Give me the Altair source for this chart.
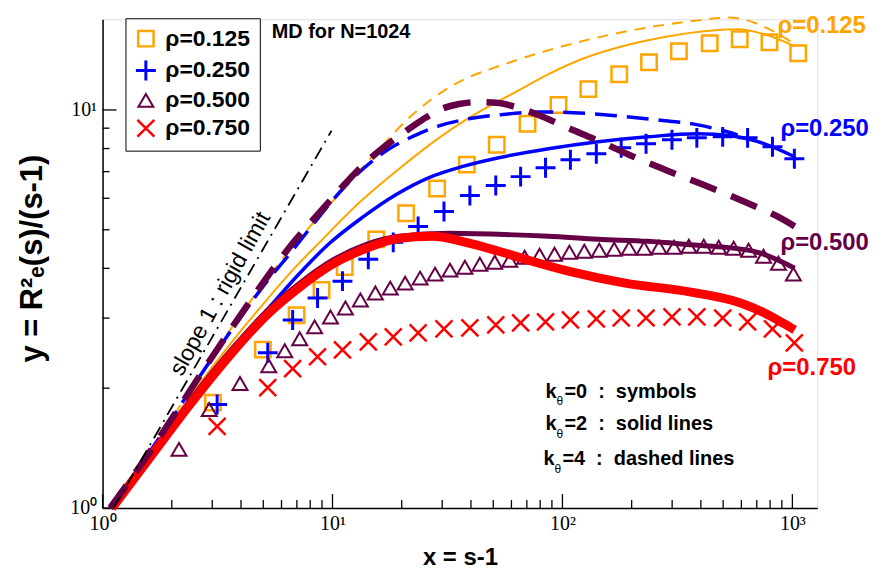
import altair as alt
import pandas as pd

# ---------------- data ----------------
RHO = ["ρ=0.125", "ρ=0.250", "ρ=0.500", "ρ=0.750"]
COLORS = ["#FFA500", "#0000FF", "#650046", "#FF0000"]

# k_theta = 0 : symbols
sq_x = [3.02, 4.98, 6.98, 8.96, 11.3, 15.5, 20.9, 28.5, 38.4, 51.8, 70.5, 96.1,
        129.6, 176.6, 238, 321, 437, 590, 795, 1060]
sq_y = [1.84, 2.50, 3.05, 3.53, 4.03, 4.73, 5.50, 6.35, 7.29, 8.18, 9.23, 10.29,
        11.28, 12.30, 13.18, 14.05, 14.71, 15.05, 14.79, 13.88]

pl_x = [3.15, 5.23, 6.71, 8.61, 11.05, 14.31, 18.37, 23.57, 30.53, 39.58, 51.29, 65.79,
        84.41, 108.3, 140.4, 180.1, 231.0, 299.4, 384.1, 497.7, 638.5, 819.2, 1020]
pl_y = [1.82, 2.455, 2.968, 3.370, 3.715, 4.217, 4.650, 5.099, 5.559, 6.095, 6.457, 6.800,
        7.161, 7.499, 7.762, 8.035, 8.222, 8.414, 8.511, 8.560, 8.511, 8.082, 7.542]

tr_x = [2.15, 2.91, 3.96, 5.28, 6.20, 7.20, 8.36, 9.80, 11.38, 13.22, 15.36, 17.83, 20.70,
        24.04, 27.92, 32.43, 37.65, 43.73, 50.78, 58.97, 68.48, 79.52, 92.35, 107.2,
        124.5, 144.6, 167.9, 195.0, 226.5, 263.0, 305.4, 354.6, 411.8, 478.2, 555.3,
        644.9, 748.9, 869.6, 1010]
tr_y = [1.404, 1.768, 2.054, 2.278, 2.483, 2.661, 2.851, 3.020, 3.180, 3.330, 3.467, 3.568,
        3.673, 3.781, 3.869, 3.959, 4.027, 4.098, 4.145, 4.193, 4.266, 4.315, 4.340, 4.390,
        4.416, 4.441, 4.467, 4.493, 4.493, 4.519, 4.519, 4.545, 4.545, 4.519, 4.493,
        4.441, 4.290, 4.121, 3.869]

cr_x = [3.15, 5.23, 6.71, 8.61, 11.05, 14.31, 18.37, 23.57, 30.53, 39.58, 51.29, 65.79,
        84.41, 108.3, 140.4, 180.1, 231.0, 299.4, 384.1, 497.7, 638.5, 819.2, 1020]
cr_y = [1.603, 2.007, 2.239, 2.399, 2.497, 2.615, 2.692, 2.754, 2.818, 2.834, 2.884, 2.917,
        2.934, 2.968, 2.985, 3.002, 3.002, 3.020, 3.020, 3.002, 2.934, 2.818, 2.600]

# k_theta = 4 : dashed lines
o4_x = [1.08, 1.61, 2.18, 2.94, 3.96, 5.18, 7.2, 10.0, 13.1, 16.0, 21.5, 29.0, 39.2,
        52.8, 87.0, 143, 236, 388, 523, 639, 780, 950, 1023]
o4_y = [1.0, 1.39, 1.81, 2.36, 3.04, 3.76, 4.76, 5.89, 7.04, 7.99, 9.55, 10.96, 12.09,
        12.88, 14.13, 15.22, 16.12, 16.79, 17.08, 16.79, 16.03, 15.05, 14.6]

b4_x = [1.08, 1.61, 2.18, 2.94, 3.96, 5.08, 6.71, 8.36, 10.72, 13.76, 17.65, 22.65, 29.05,
        39.18, 52.84, 78.71, 117.3, 174.8, 260.4, 387.9, 578.1]
b4_y = [1.0, 1.388, 1.809, 2.344, 3.003, 3.652, 4.441, 5.218, 6.202, 7.161, 7.989, 8.61,
        9.12, 9.50, 9.72, 9.886, 9.83, 9.66, 9.44, 9.173, 8.66]

p4_x = [1.08, 1.61, 2.18, 2.94, 3.96, 5.08, 6.71, 8.785, 11.05, 13.09, 15.98, 19.5, 24.53,
        29.05, 35.46, 43.29, 52.84, 62.58, 78.71, 103.0, 143.2, 199.0, 279.2, 387.9,
        523.2, 705.6, 861, 1023]
p4_y = [1.0, 1.388, 1.809, 2.358, 3.038, 3.737, 4.624, 5.527, 6.420, 7.12, 7.898, 8.61,
        9.441, 10.0, 10.35, 10.47, 10.41, 10.17, 9.716, 9.068, 8.366, 7.674, 7.079,
        6.569, 6.13, 5.69, 5.40, 5.10]

# k_theta = 2 : solid lines
o2_x = [1.08, 1.61, 2.18, 2.94, 3.96, 5.08, 6.71, 8.785, 13.09, 19.5, 29.05, 39.18, 52.84,
        62.58, 86.98, 120.9, 169.6, 235.7, 327.5, 459.6, 578.1, 756.5, 1023]
o2_y = [1.0, 1.380, 1.758, 2.226, 2.770, 3.292, 3.959, 4.65, 5.854, 7.12, 8.511, 9.55,
        10.53, 11.09, 12.30, 13.41, 14.29, 14.96, 15.49, 15.85, 15.94, 15.49, 14.45]

b2_x = [1.08, 1.61, 2.18, 2.94, 3.69, 5.18, 7.2, 9.71, 13.49, 18.93, 26.29, 36.54, 52.84,
        86.98, 143.2, 235.7, 387.9, 539.1, 756.5, 1023]
b2_y = [1.0, 1.365, 1.718, 2.138, 2.512, 3.144, 3.890, 4.624, 5.37, 6.13, 6.761, 7.203,
        7.586, 7.989, 8.318, 8.56, 8.71, 8.61, 8.222, 7.63]

p2_x = [1.09, 1.61, 2.40, 3.69, 5.18, 7.2, 10.0, 14.04, 19.5, 32.1, 52.84, 86.98, 143.2,
        235.7, 387.9, 507.8, 705.6, 887.4, 1023]
p2_y = [1.0, 1.357, 1.862, 2.527, 3.126, 3.673, 4.193, 4.597, 4.815, 4.898, 4.87, 4.815,
        4.732, 4.677, 4.571, 4.519, 4.39, 4.169, 4.005]

r2_x = [1.10, 1.61, 2.40, 3.69, 5.18, 7.2, 10.0, 14.04, 19.5, 27.09, 38.03, 52.84, 71.25,
        106.2, 187.4, 361.7, 595.6, 756.5, 923.5, 1023]
r2_y = [1.0, 1.341, 1.82, 2.469, 3.055, 3.589, 4.098, 4.493, 4.759, 4.815, 4.65, 4.416,
        4.193, 3.936, 3.673, 3.487, 3.273, 3.090, 2.901, 2.802]

# rigid limit (slope 1)
slope_x = [1.116, 9.90]
slope_y = [1.0, 8.87]

# axis ticks
xt_major = [1, 10, 100, 1000]
xt_minor = [2, 3, 4, 5, 6, 7, 8, 9, 20, 30, 40, 50, 60, 70, 80, 90,
            200, 300, 400, 500, 600, 700, 800, 900]
yt_major = [1, 10]
yt_minor = [2, 3, 4, 5, 6, 7, 8, 9]

# annotations
lab_x = [861, 887, 887, 780]
lab_y = [15.6, 8.61, 4.44, 2.163]

NB = "\u00a0"
kt_x = [84.4, 84.4, 82.7]
kt_y = [1.895, 1.567, 1.281]
kt_sub = ["θ", "θ", "θ"]
kt_text = ["=0" + NB * 2 + ":" + NB * 2 + "symbols",
           "=2" + NB * 2 + ":" + NB * 2 + "solid lines",
           "=4" + NB * 2 + ":" + NB * 2 + "dashed lines"]

# ---------------- chart ----------------
W, H = 718, 491
SANS = "Liberation Sans"
SERIF = "Liberation Serif"

xs = alt.Scale(type="log", domain=[1, 1283], nice=False)
ys = alt.Scale(type="log", domain=[1, 16.9], nice=False)

x_axis = alt.Axis(values=xt_major, ticks=False, grid=False, labelFlush=False,
                  labelOverlap=False,
                  labelExpr="datum.value == 1 ? '10\u2070' : datum.value == 10 ? '10\u00b9' : datum.value == 100 ? '10\u00b2' : '10\u00b3'",
                  labelFont=SERIF, labelFontSize=20, labelColor="black", labelPadding=6,
                  domainColor="black", domainWidth=1.5,
                  title="x = s-1", titleFont=SANS, titleFontSize=24, titleFontWeight="bold",
                  titleColor="black", titleY=50, titleBaseline="middle")
y_axis = alt.Axis(values=yt_major, ticks=False, grid=False, labelFlush=False,
                  labelOverlap=False,
                  labelExpr="datum.value == 1 ? '10\u2070' : '10\u00b9'",
                  labelFont=SERIF, labelFontSize=20, labelColor="black", labelPadding=6,
                  domainColor="black", domainWidth=1.5,
                  title="y = R\u00b2\u2091(s)/(s-1)", titleFont=SANS, titleFontSize=31,
                  titleFontWeight="bold", titleColor="black", titleX=-70, titleY=240,
                  titleAngle=270, titleAlign="center", titleBaseline="middle")

X = alt.X("x:Q", scale=xs, axis=x_axis)
Y = alt.Y("y:Q", scale=ys, axis=y_axis)

layers = []

# inward tick marks
layers.append(alt.Chart(pd.DataFrame({"x": xt_major})).mark_rule(color="black", strokeWidth=1.3)
              .encode(x=X, y=alt.value(H), y2=alt.value(H - 14)))
layers.append(alt.Chart(pd.DataFrame({"x": xt_minor})).mark_rule(color="black", strokeWidth=1.3)
              .encode(x=X, y=alt.value(H), y2=alt.value(H - 8)))
layers.append(alt.Chart(pd.DataFrame({"y": yt_major})).mark_rule(color="black", strokeWidth=1.3)
              .encode(y=Y, x=alt.value(0), x2=alt.value(14)))
layers.append(alt.Chart(pd.DataFrame({"y": yt_minor})).mark_rule(color="black", strokeWidth=1.3)
              .encode(y=Y, x=alt.value(0), x2=alt.value(7)))

# symbols
pts = pd.concat([
    pd.DataFrame({"x": sq_x, "y": sq_y, "rho": RHO[0]}),
    pd.DataFrame({"x": pl_x, "y": pl_y, "rho": RHO[1]}),
    pd.DataFrame({"x": tr_x, "y": tr_y, "rho": RHO[2]}),
    pd.DataFrame({"x": cr_x, "y": cr_y, "rho": RHO[3]}),
], ignore_index=True)

SHAPES = ["square", "M-1,0L1,0M0,-1L0,1", "triangle-up", "M-1,-1L1,1M-1,1L1,-1"]
legend = alt.Legend(title=None, orient="none", legendX=23, legendY=-1, padding=9,
                    rowPadding=2, labelOffset=8, labelFontSize=23, labelFont=SANS,
                    labelFontWeight="bold", labelColor="black", strokeColor="black",
                    fillColor="white", symbolOpacity=1)
layers.append(alt.Chart(pts).mark_point(filled=False, opacity=1).encode(
    x=X, y=Y,
    color=alt.Color("rho:N", scale=alt.Scale(domain=RHO, range=COLORS), legend=legend),
    shape=alt.Shape("rho:N", scale=alt.Scale(domain=RHO, range=SHAPES), legend=legend),
    size=alt.Size("rho:N", scale=alt.Scale(type="ordinal", domain=RHO, range=[240, 400, 225, 289]),
                  legend=legend),
    strokeWidth=alt.StrokeWidth("rho:N", scale=alt.Scale(type="ordinal", domain=RHO,
                                                         range=[2.5, 3, 2, 2.5]), legend=legend),
))

# lines
line_specs = [
    (o4_x, o4_y, COLORS[0], 2, [11, 8]),
    (o2_x, o2_y, COLORS[0], 2, None),
    (b2_x, b2_y, COLORS[1], 3.5, None),
    (b4_x, b4_y, COLORS[1], 3.5, [22, 10]),
    (p2_x, p2_y, COLORS[2], 5, None),
    (r2_x, r2_y, COLORS[3], 9, None),
    (p4_x, p4_y, COLORS[2], 6.5, [28, 16]),
]
for lx, ly, c, w, dash in line_specs:
    kw = dict(color=c, strokeWidth=w, interpolate="monotone")
    if dash:
        kw["strokeDash"] = dash
    layers.append(alt.Chart(pd.DataFrame({"x": lx, "y": ly})).mark_line(**kw).encode(x=X, y=Y))

layers.append(alt.Chart(pd.DataFrame({"x": slope_x, "y": slope_y})).mark_line(
    color="black", strokeWidth=1.8, strokeDash=[13, 6, 2, 6]).encode(x=X, y=Y))

# text annotations
layers.append(alt.Chart(pd.DataFrame({"x": lab_x, "y": lab_y, "t": RHO, "c": COLORS}))
              .mark_text(align="left", baseline="alphabetic", font=SANS, fontSize=24,
                         fontWeight="bold")
              .encode(x=X, y=Y, text="t:N", color=alt.Color("c:N", scale=None)))

layers.append(alt.Chart(pd.DataFrame({"x": [5.44], "y": [15.14], "t": ["MD for N=1024"]}))
              .mark_text(align="left", baseline="alphabetic", font=SANS, fontSize=20,
                         fontWeight="bold", color="black")
              .encode(x=X, y=Y, text="t:N"))

layers.append(alt.Chart(pd.DataFrame({"x": [3.25], "y": [3.45], "t": ["slope 1 : rigid limit"]}))
              .mark_text(align="center", baseline="middle", font=SANS, fontSize=23,
                         angle=299, color="black")
              .encode(x=X, y=Y, text="t:N"))

kt = pd.DataFrame({"x": kt_x, "y": kt_y, "k": ["k"] * 3, "s": kt_sub, "t": kt_text})
layers.append(alt.Chart(kt).mark_text(align="left", baseline="alphabetic", font=SANS,
                                      fontSize=20, fontWeight="bold", color="black")
              .encode(x=X, y=Y, text="k:N"))
layers.append(alt.Chart(kt).mark_text(align="left", baseline="alphabetic", font=SANS,
                                      fontSize=12, color="black", dx=11, dy=8)
              .encode(x=X, y=Y, text="s:N"))
layers.append(alt.Chart(kt).mark_text(align="left", baseline="alphabetic", font=SANS,
                                      fontSize=20, fontWeight="bold", color="black", dx=19)
              .encode(x=X, y=Y, text="t:N"))

chart = alt.layer(*layers).properties(
    width=W, height=H,
    autosize=alt.AutoSizeParams(type="none"),
    padding={"left": 95, "top": 10, "right": 58, "bottom": 66},
).configure_view(stroke=None).configure(background="white")

chart.save("out.html", embed_options={"renderer": "svg", "actions": False})
